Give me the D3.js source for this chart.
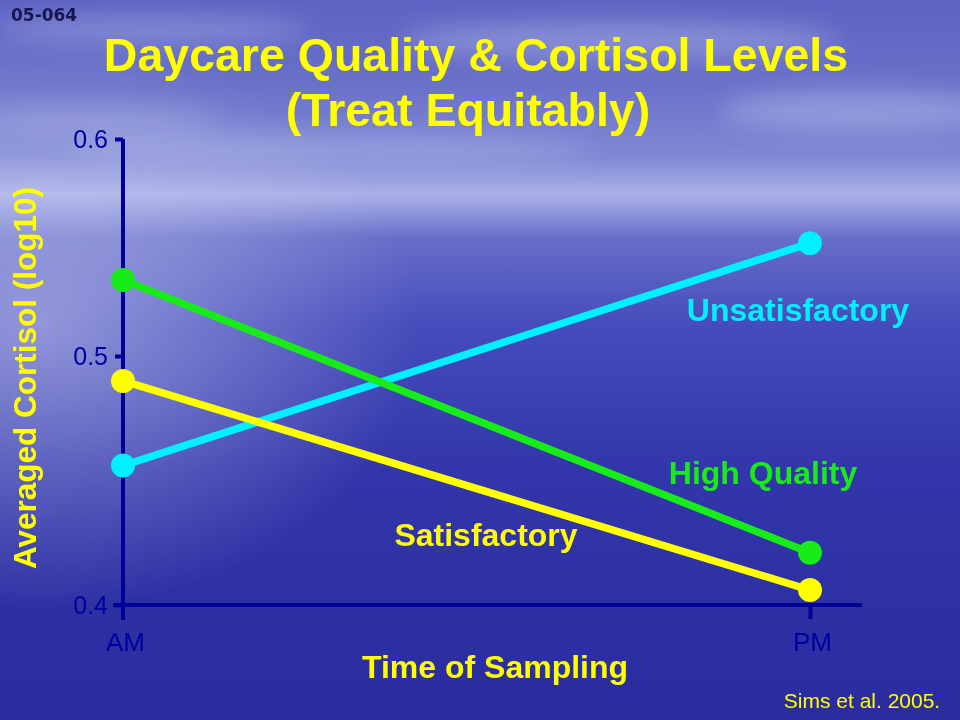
<!DOCTYPE html>
<html>
<head>
<meta charset="utf-8">
<script src="https://cdn.jsdelivr.net/npm/d3@7"></script>
<style>
  body { margin: 0; padding: 0; }
  svg { display: block; font-family: "Liberation Sans", Arial, sans-serif; }
</style>
</head>
<body>
<div id="chart"></div>
<script>
// data
const times = ["AM", "PM"];
const groups = ["Unsatisfactory", "High Quality", "Satisfactory"];
const unsatisfactory = [0.456, 0.552];
const highQuality = [0.535, 0.421];
const satisfactory = [0.490, 0.406];
const yTicks = [0.4, 0.5, 0.6];

const width = 960, height = 720;

const series = [
  { name: groups[0], values: unsatisfactory, color: "#00f0ff", lx: 798, ly: 321 },
  { name: groups[1], values: highQuality, color: "#18ec18", lx: 763, ly: 484 },
  { name: groups[2], values: satisfactory, color: "#ffff00", lx: 486, ly: 546 }
];

const svg = d3.select("#chart").append("svg")
  .attr("width", width)
  .attr("height", height);

// background sky / sea
const defs = svg.append("defs");
const bg = defs.append("linearGradient")
  .attr("id", "bg").attr("x1", 0).attr("y1", 0).attr("x2", 0).attr("y2", 1);
[[0, "#5c63c2"], [0.12, "#6a71c9"], [0.22, "#828ad5"], [0.27, "#aab1e8"], [0.285, "#9aa1e0"],
 [0.33, "#676ec8"], [0.45, "#464cbb"], [0.65, "#3236aa"], [1, "#2a2c9e"]]
  .forEach(s => bg.append("stop").attr("offset", s[0]).attr("stop-color", s[1]));

const glow = defs.append("radialGradient")
  .attr("id", "glow").attr("cx", 0.04).attr("cy", 0.45).attr("r", 0.4);
glow.append("stop").attr("offset", 0).attr("stop-color", "#d0d4f4").attr("stop-opacity", 0.55);
glow.append("stop").attr("offset", 1).attr("stop-color", "#d0d4f4").attr("stop-opacity", 0);

defs.append("filter").attr("id", "blur")
  .attr("x", -0.5).attr("y", -0.5).attr("width", 2).attr("height", 2)
  .append("feGaussianBlur").attr("stdDeviation", 12);

svg.append("rect").attr("width", width).attr("height", height).attr("fill", "url(#bg)");

// soft cloud streaks
const clouds = svg.append("g").attr("filter", "url(#blur)").attr("fill", "#c4c9f0");
[[150, 30, 160, 14, 0.35], [620, 40, 220, 18, 0.4], [860, 110, 140, 20, 0.4],
 [330, 150, 260, 14, 0.35], [100, 120, 120, 12, 0.3]]
  .forEach(c => clouds.append("ellipse")
    .attr("cx", c[0]).attr("cy", c[1]).attr("rx", c[2]).attr("ry", c[3]).attr("opacity", c[4]));

svg.append("rect").attr("width", width).attr("height", height).attr("fill", "url(#glow)");

// scales (the slide's value axis is not evenly spaced)
const x = d3.scalePoint().domain(times).range([123, 810]);
const y = d3.scaleLinear().domain([0.4, 0.5, 0.6]).range([605, 356, 139]);

const axisColor = "#000099";
const tickText = "#0000a0";

// y axis
const yAxis = svg.append("g")
  .attr("transform", "translate(123,0)")
  .call(d3.axisLeft(y).tickValues(yTicks).tickFormat(d3.format(".1f")).tickSize(8).tickPadding(7));
yAxis.select(".domain").remove();
yAxis.append("line")
  .attr("y1", y(0.6)).attr("y2", 620)
  .attr("stroke", axisColor).attr("stroke-width", 4);
yAxis.selectAll(".tick line").attr("stroke", axisColor).attr("stroke-width", 4);
yAxis.selectAll(".tick text")
  .attr("fill", tickText).attr("font-size", 25).attr("font-family", "Liberation Sans, Arial, sans-serif");

// x axis
const xAxis = svg.append("g")
  .attr("transform", "translate(0," + y(0.4) + ")")
  .call(d3.axisBottom(x).tickSize(14).tickPadding(0));
xAxis.select(".domain").remove();
xAxis.append("line")
  .attr("x1", 113).attr("x2", 862)
  .attr("stroke", axisColor).attr("stroke-width", 4);
xAxis.selectAll(".tick line").attr("stroke", axisColor).attr("stroke-width", 4);
xAxis.selectAll(".tick text")
  .attr("dy", null).attr("y", 46).attr("dx", 2)
  .attr("fill", tickText).attr("font-size", 26).attr("font-family", "Liberation Sans, Arial, sans-serif");
xAxis.selectAll(".tick").filter(d => d === "AM").select("line").remove();

// lines and points
const line = d3.line()
  .x((d, i) => x(times[i]))
  .y(d => y(d));

const grp = svg.selectAll(".series")
  .data(series)
  .join("g")
  .attr("class", "series");

grp.append("path")
  .attr("d", d => line(d.values))
  .attr("fill", "none")
  .attr("stroke", d => d.color)
  .attr("stroke-width", 7.5);

grp.selectAll("circle")
  .data(d => d.values.map((v, i) => ({ v: v, t: times[i], color: d.color })))
  .join("circle")
  .attr("cx", d => x(d.t))
  .attr("cy", d => y(d.v))
  .attr("r", 12)
  .attr("fill", d => d.color);

grp.append("text")
  .attr("x", d => d.lx)
  .attr("y", d => d.ly)
  .attr("text-anchor", "middle")
  .attr("font-weight", "bold")
  .attr("font-size", 32)
  .attr("fill", d => d.color)
  .text(d => d.name);

// titles
svg.append("text")
  .attr("x", 476).attr("y", 71)
  .attr("text-anchor", "middle")
  .attr("font-weight", "bold").attr("font-size", 46.5)
  .attr("fill", "#ffff00")
  .text("Daycare Quality & Cortisol Levels");

svg.append("text")
  .attr("x", 468).attr("y", 126)
  .attr("text-anchor", "middle")
  .attr("font-weight", "bold").attr("font-size", 46.5)
  .attr("fill", "#ffff00")
  .text("(Treat Equitably)");

svg.append("text")
  .attr("x", 11).attr("y", 21)
  .attr("font-weight", "bold").attr("font-size", 17)
  .attr("font-family", "DejaVu Sans, sans-serif")
  .attr("fill", "#161650")
  .text("05-064");

svg.append("text")
  .attr("transform", "translate(36,378) rotate(-90)")
  .attr("text-anchor", "middle")
  .attr("font-weight", "bold").attr("font-size", 31.5)
  .attr("fill", "#ffff00")
  .text("Averaged Cortisol (log10)");

svg.append("text")
  .attr("x", 495).attr("y", 678)
  .attr("text-anchor", "middle")
  .attr("font-weight", "bold").attr("font-size", 32)
  .attr("fill", "#ffff00")
  .text("Time of Sampling");

svg.append("text")
  .attr("x", 862).attr("y", 708)
  .attr("text-anchor", "middle")
  .attr("font-size", 21)
  .attr("fill", "#ffff00")
  .text("Sims et al. 2005.");
</script>
</body>
</html>
